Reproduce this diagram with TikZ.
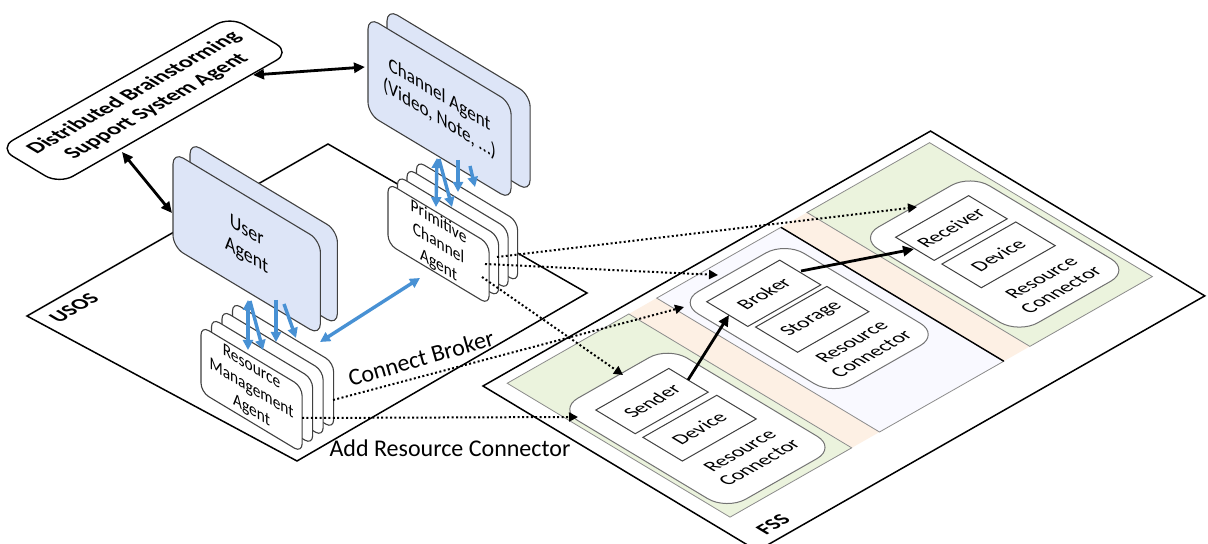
\documentclass[tikz,border=0pt]{standalone}
\usepackage{fontspec}
\setmainfont{Carlito}
\usetikzlibrary{arrows.meta}
\definecolor{cardblue}{RGB}{221,229,247}
\definecolor{arrblue}{RGB}{72,145,212}
\definecolor{fssgreen}{RGB}{235,243,221}
\definecolor{fssorange}{RGB}{253,240,228}
\definecolor{fsslav}{RGB}{249,249,255}
% rounded rectangle in local coordinates: style, x0, y0, x1, y1, r
\newcommand\rrbox[6]{\path[#1] ({#2+#6},#3) -- ({#4-#6},#3) .. controls ({#4-0.448*#6},#3) and (#4,{#3+0.448*#6}) .. (#4,{#3+#6}) -- (#4,{#5-#6}) .. controls (#4,{#5-0.448*#6}) and ({#4-0.448*#6},#5) .. ({#4-#6},#5) -- ({#2+#6},#5) .. controls ({#2+0.448*#6},#5) and (#2,{#5-0.448*#6}) .. (#2,{#5-#6}) -- (#2,{#3+#6}) .. controls (#2,{#3+0.448*#6}) and ({#2+0.448*#6},#3) .. ({#2+#6},#3) -- cycle;}
\newcommand\inbx[4]{\path[inbox] (#1,#2) -- (#3,#2) -- (#3,#4) -- (#1,#4) -- cycle;}
\newcommand\mycard[6]{\begin{scope}[vplane={(#2,#3)}]\rrbox{#1}{0}{-#5}{#4}{0}{#6}\end{scope}}
\begin{document}
\begin{tikzpicture}[x=0.5pt,y=-0.5pt,
 hplane/.style={shift={(483,386)},cm={0.857,-0.515,0.869,0.495,(0,0)},x=0.5pt,y=0.5pt},
 vplane/.style={shift={#1},cm={0.857,-0.515,0,1,(0,0)},x=0.5pt,y=0.5pt},
 planebox/.style={draw=black,line width=0.75pt,fill=white},
 regionbox/.style={draw=black!45,line width=0.4pt},
 rcbox/.style={draw=black!55,line width=0.5pt,fill=white},
 inbox/.style={draw=black!75,line width=0.5pt,fill=white},
 dbssbox/.style={draw=black,line width=0.7pt,fill=white},
 bluecard/.style={draw=black!75,line width=0.55pt,fill=cardblue},
 whitecard/.style={draw=black!75,line width=0.55pt,fill=white},
 htext/.style={transform shape,rotate=90,align=center,inner sep=0pt,font=\fontsize{10}{11.5}\selectfont},
 vtext/.style={transform shape,align=center,inner sep=0pt},
 blk/.style={line width=1.4pt,{Triangle[length=5.5pt,width=5pt]}-{Triangle[length=5.5pt,width=5pt]}},
 blkone/.style={line width=1.4pt,-{Triangle[length=5.5pt,width=5pt]}},
 bltwo/.style={draw=arrblue,line width=1.7pt,{Triangle[length=5pt,width=5pt]}-{Triangle[length=5pt,width=5pt]}},
 blone/.style={draw=arrblue,line width=1.7pt,-{Triangle[length=5pt,width=5pt]}},
 dotarrow/.style={line width=1pt,dash pattern=on 1pt off 1.2pt,-{Triangle[length=4.5pt,width=4.5pt]}},
]
\useasboundingbox (0,0) rectangle (1208,544);
\clip (0,0) rectangle (1208,544);

% USOS plane
\path[planebox] (27,316) -- (328,144) -- (587,293) -- (297,461) -- cycle;

% FSS plane and its contents
\begin{scope}[hplane]
 \path[planebox] (0,0) -- (320,0) -- (320,515) -- (0,515) -- cycle;
 \fill[fssorange] (11,17) -- (271,17) -- (271,503) -- (11,503) -- cycle;
 \path[regionbox,fill=fssgreen] (11,17) -- (271,17) -- (271,157) -- (11,157) -- cycle;
 \path[regionbox,fill=fsslav] (11,189) -- (271,189) -- (271,332) -- (11,332) -- cycle;
 \path[regionbox,fill=fssgreen] (11,362) -- (271,362) -- (271,503) -- (11,503) -- cycle;
 \draw[line width=0.7pt] (11,332) -- (271,332);
 % resource connectors
 \rrbox{rcbox}{66}{22}{262}{148}{22}
 \rrbox{rcbox}{28}{198}{208}{320}{22}
 \rrbox{rcbox}{66}{368}{252}{496}{22}
 \inbx{88}{43}{134}{127}
 \inbx{142}{44}{188}{129}
 \inbx{43}{215}{91}{299}
 \inbx{96}{219}{145}{301}
 \inbx{86}{390}{131}{474}
 \inbx{139}{391}{185}{476}
 \node[htext] (sender) at (111,85) {Sender};
 \node[htext] (dev1) at (165,86) {Device};
 \node[htext] (rc1) at (222,88) {Resource\\Connector};
 \node[htext] (broker) at (67,257) {Broker};
 \node[htext] (storage) at (120,260) {Storage};
 \node[htext] (rc2) at (177,261) {Resource\\Connector};
 \node[htext] (receiver) at (108,432) {Receiver};
 \node[htext] (dev3) at (162,433) {Device};
 \node[htext] (rc3) at (221,436) {Resource\\Connector};
 \node[htext,font=\bfseries\fontsize{10.5}{12}\selectfont] (fsslabel) at (303,35) {FSS};
 \node[htext,font=\bfseries\fontsize{10.5}{12}\selectfont] (usoslabel) at (-310,-165) {USOS};
 % DBSS agent
 \rrbox{dbssbox}{-512}{-52}{-442}{214}{16}
 \node[htext,font=\bfseries\fontsize{11}{13}\selectfont] (dbss) at (-477,82) {Distributed Brainstorming\\Support System Agent};
\end{scope}

% User Agent
\mycard{bluecard}{190}{142}{172}{95}{12}
\begin{scope}[vplane={(173,152)}]
 \rrbox{bluecard}{0}{-95}{172}{0}{12}
 \node[vtext,font=\fontsize{10.5}{12.5}\selectfont] (ua) at (86,-47.5) {User\\Agent};
\end{scope}
% Channel Agent
\mycard{bluecard}{387}{9}{167}{97}{12}
\begin{scope}[vplane={(368,17)}]
 \rrbox{bluecard}{0}{-97}{167}{0}{12}
 \node[vtext,font=\fontsize{10}{12}\selectfont] (ca) at (83.5,-47) {Channel Agent\\(Video, Note, …)};
\end{scope}
% Primitive Channel Agent
\mycard{whitecard}{416.5}{160.5}{118}{61}{9}
\mycard{whitecard}{407}{168}{118}{61}{9}
\mycard{whitecard}{397.5}{175.5}{118}{61}{9}
\begin{scope}[vplane={(388,183)}]
 \rrbox{whitecard}{0}{-61}{118}{0}{9}
 \node[vtext,font=\fontsize{9}{10.8}\selectfont] (pca) at (59,-30.5) {Primitive\\Channel\\Agent};
\end{scope}
% Resource Management Agent
\mycard{whitecard}{232.5}{302}{118}{66}{9}
\mycard{whitecard}{222}{310}{118}{66}{9}
\mycard{whitecard}{211.5}{318}{118}{66}{9}
\begin{scope}[vplane={(201,326)}]
 \rrbox{whitecard}{0}{-66}{118}{0}{9}
 \node[vtext,font=\fontsize{9}{10.8}\selectfont] (rma) at (59,-33) {Resource\\Management\\Agent};
\end{scope}

% connector end points
\coordinate (dbR) at (253,75);   \coordinate (caL) at (365,67);
\coordinate (dbB) at (122,152);  \coordinate (uaL) at (172,213);
\coordinate (a1t) at (248,300);  \coordinate (a1b) at (248,350);
\coordinate (a2t) at (250,301);  \coordinate (a2b) at (263,350);
\coordinate (a3t) at (276,300);  \coordinate (a3b) at (276,342);
\coordinate (a4t) at (284,304);  \coordinate (a4b) at (296,338);
\coordinate (b1t) at (437,158);  \coordinate (b1b) at (436,207);
\coordinate (b2t) at (439,159);  \coordinate (b2b) at (452,207);
\coordinate (b3t) at (458,160);  \coordinate (b3b) at (458,192);
\coordinate (b4t) at (470,166);  \coordinate (b4b) at (475,187);
\coordinate (rmaUp) at (320,342); \coordinate (pcaLow) at (420,278);
\coordinate (pcaO1) at (497,257); \coordinate (recvIn) at (917,207);
\coordinate (pcaO2) at (485,264); \coordinate (brkIn) at (718,275);
\coordinate (pcaO3) at (482,277); \coordinate (sndIn) at (623,375);
\coordinate (rmaO1) at (333,400); \coordinate (rc2In) at (684,307);
\coordinate (rmaO2) at (302,418); \coordinate (rc1In) at (578,417);
\coordinate (sndOut) at (688,380); \coordinate (brkDown) at (729,315);
\coordinate (brkOut) at (801,271); \coordinate (recvLeft) at (914,249);

% black arrows
\draw[blk] (dbR) -- (caL);
\draw[blk] (dbB) -- (uaL);
\draw[blkone] (sndOut) -- (brkDown);
\draw[blkone] (brkOut) -- (recvLeft);

% blue arrows
\draw[bltwo] (a1t) -- (a1b);
\draw[blone] (a2t) -- (a2b);
\draw[blone] (a3t) -- (a3b);
\draw[blone] (a4t) -- (a4b);
\draw[bltwo] (b1t) -- (b1b);
\draw[blone] (b2t) -- (b2b);
\draw[blone] (b3t) -- (b3b);
\draw[blone] (b4t) -- (b4b);
\draw[bltwo] (rmaUp) -- (pcaLow);

% dotted arrows
\draw[dotarrow] (pcaO1) -- (recvIn);
\draw[dotarrow] (pcaO2) -- (brkIn);
\draw[dotarrow] (pcaO3) -- (sndIn);
\draw[dotarrow] (rmaO1) -- (rc2In);
\draw[dotarrow] (rmaO2) -- (rc1In);

\node[rotate=16,font=\fontsize{12}{14}\selectfont,inner sep=0pt] (cb) at (421,358) {Connect Broker};
\node[anchor=base,font=\fontsize{12}{14}\selectfont,inner sep=0pt] (addrc) at (450,456) {Add Resource Connector};
\end{tikzpicture}
\end{document}
